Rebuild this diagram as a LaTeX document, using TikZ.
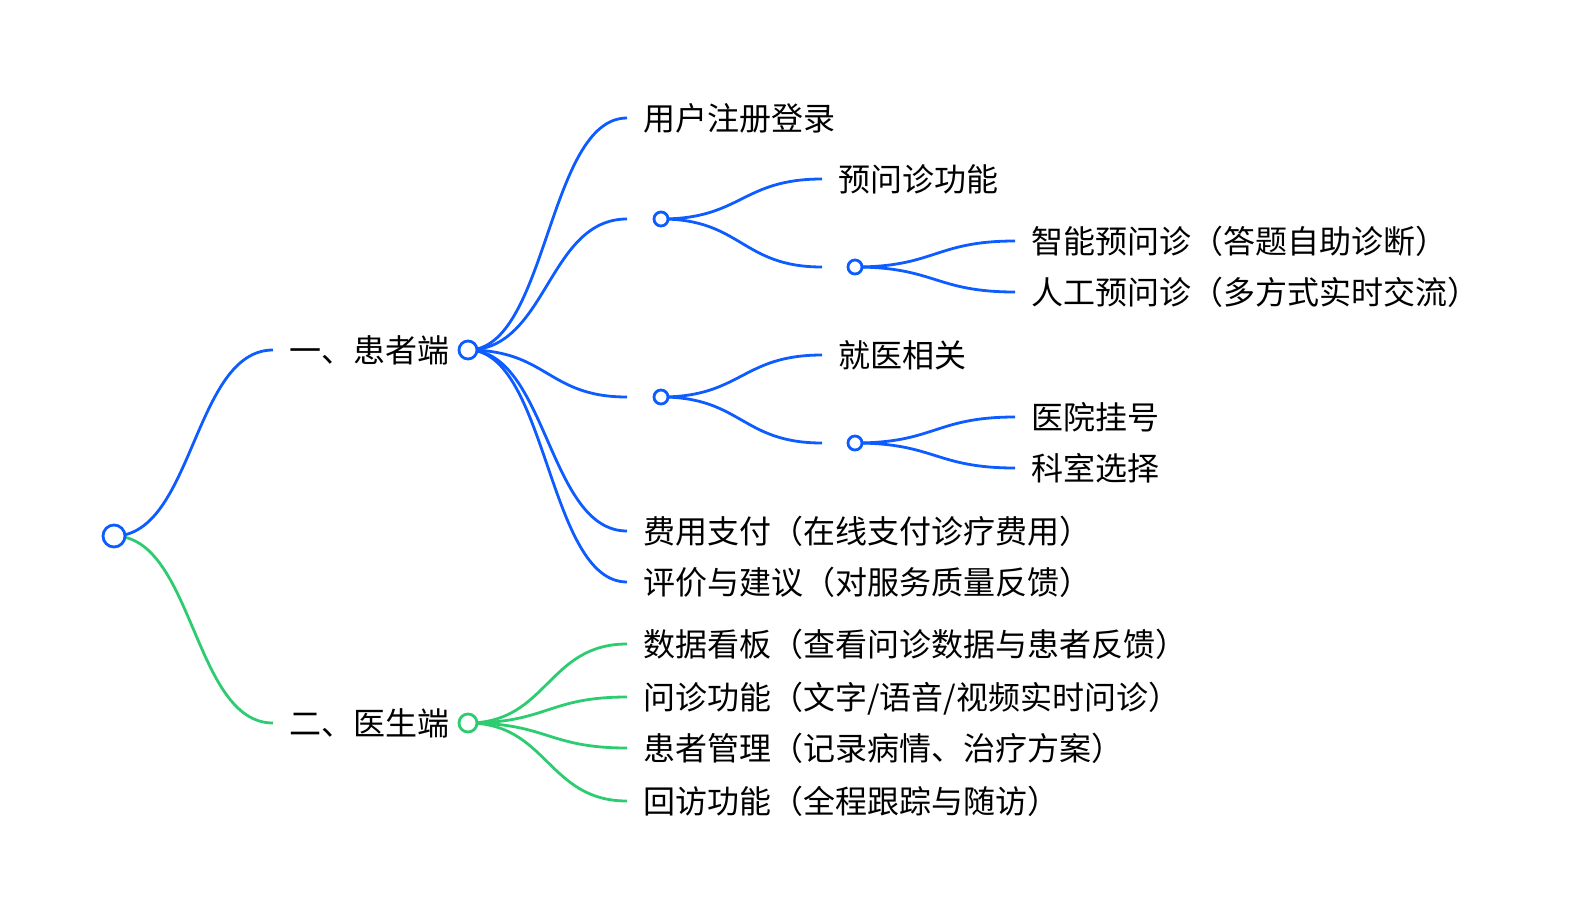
\documentclass[tikz,border=0pt]{standalone}
\usepackage{fontspec}
\newfontfamily\cjk{Noto Sans CJK SC}
\usetikzlibrary{calc,backgrounds}
\definecolor{mmblue}{RGB}{13,92,255}
\definecolor{mmgreen}{RGB}{46,204,113}

\begin{document}
\begin{tikzpicture}[x=1pt,y=-1pt,
  mmlink/.style={draw=#1, line width=2.8pt,
    to path={let \p1=(\tikztostart), \p2=(\tikztotarget) in
      .. controls ({0.5*\x1+0.5*\x2},\y1) and ({0.5*\x1+0.5*\x2},\y2) .. (\tikztotarget)}},
  mmlink/.default=mmblue,
  hub/.style={circle, draw=#1, fill=white, line width=2.8pt, inner sep=0pt},
  leaf/.style={anchor=west, inner xsep=16pt, inner ysep=0pt, text height=26pt, text depth=2pt,
    font=\cjk\fontsize{32}{38}\selectfont}]
\useasboundingbox (0,0) rectangle (1578,918);

% root and the two sides
\node[hub=mmblue, minimum size=22pt] (root) at (114,536) {};
\node[leaf] (patient) at (273,350) {一、患者端};
\node[hub=mmblue, minimum size=18pt] (pat) at (468,350) {};
\node[leaf] (doctor) at (273,723) {二、医生端};
\node[hub=mmgreen, minimum size=18pt] (doc) at (468,723) {};

% patient side
\node[leaf] (signup) at (627,118) {用户注册登录};
\coordinate (preend) at (627,219);
\node[hub=mmblue, minimum size=14pt] (pre) at (661,219) {};
\node[leaf] (prefunc) at (822,179) {预问诊功能};
\coordinate (modeend) at (822,267);
\node[hub=mmblue, minimum size=14pt] (mode) at (855,267) {};
\node[leaf] (smart) at (1015,241) {智能预问诊（答题自助诊断）};
\node[leaf] (manual) at (1015,292) {人工预问诊（多方式实时交流）};
\coordinate (visitend) at (627,397);
\node[hub=mmblue, minimum size=14pt] (visit) at (661,397) {};
\node[leaf] (visitrel) at (822,355) {就医相关};
\coordinate (deptend) at (822,443);
\node[hub=mmblue, minimum size=14pt] (dept) at (855,443) {};
\node[leaf] (register) at (1015,417) {医院挂号};
\node[leaf] (choose) at (1015,468) {科室选择};
\node[leaf] (pay) at (627,531) {费用支付（在线支付诊疗费用）};
\node[leaf] (review) at (627,582) {评价与建议（对服务质量反馈）};

% doctor side
\node[leaf] (board) at (627,644) {数据看板（查看问诊数据与患者反馈）};
\node[leaf] (consult) at (627,697) {问诊功能（文字/语音/视频实时问诊）};
\node[leaf] (manage) at (627,748) {患者管理（记录病情、治疗方案）};
\node[leaf] (followup) at (627,801) {回访功能（全程跟踪与随访）};

\begin{scope}[on background layer]
\draw[mmlink] (root.center) to (patient.west);
\draw[mmlink] (pat.center) to (signup.west);
\draw[mmlink] (pat.center) to (preend);
\draw[mmlink] (pat.center) to (visitend);
\draw[mmlink] (pat.center) to (pay.west);
\draw[mmlink] (pat.center) to (review.west);
\draw[mmlink] (pre.center) to (prefunc.west);
\draw[mmlink] (pre.center) to (modeend);
\draw[mmlink] (mode.center) to (smart.west);
\draw[mmlink] (mode.center) to (manual.west);
\draw[mmlink] (visit.center) to (visitrel.west);
\draw[mmlink] (visit.center) to (deptend);
\draw[mmlink] (dept.center) to (register.west);
\draw[mmlink] (dept.center) to (choose.west);
\draw[mmlink=mmgreen] (root.center) to (doctor.west);
\foreach \leafname in {board,consult,manage,followup}
  \draw[mmlink=mmgreen] (doc.center) to (\leafname.west);
\end{scope}
\end{tikzpicture}
\end{document}
